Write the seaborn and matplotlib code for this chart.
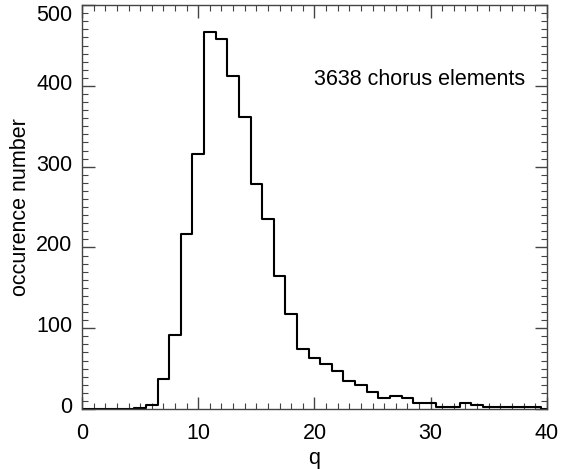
import matplotlib

matplotlib.use("Agg")

import matplotlib.pyplot as plt
import matplotlib.transforms as mtransforms
import pandas as pd
import seaborn as sns
from matplotlib.ticker import MultipleLocator

# q value (bin centre) and number of chorus elements in each bin
q_values = list(range(0, 41))
counts = [0, 0, 0, 0, 0, 1, 5, 37, 92, 217,
          316, 467, 458, 412, 362, 278, 235, 165, 118, 74,
          63, 56, 47, 35, 30, 21, 13, 16, 13, 7,
          7, 3, 3, 7, 5, 2, 2, 2, 3, 3,
          0]
annotation = "3638 chorus elements"

df = pd.DataFrame({"q": q_values, "n": counts})

sns.set_theme(style="ticks")
plt.rcParams["font.family"] = ["Liberation Sans", "DejaVu Sans"]
plt.rcParams["text.color"] = "black"
plt.rcParams["axes.labelcolor"] = "black"

fig = plt.figure(figsize=(5.62, 4.69), dpi=100)
ax = fig.add_axes([0.146, 0.128, 0.827, 0.861])

sns.histplot(
    data=df,
    x="q",
    weights="n",
    discrete=True,
    element="step",
    fill=False,
    color="black",
    linewidth=1.5,
    ax=ax,
)

ax.set_xlim(0, 40)
ax.set_ylim(0, 500)
ax.xaxis.set_major_locator(MultipleLocator(10))
ax.xaxis.set_minor_locator(MultipleLocator(1))
ax.yaxis.set_major_locator(MultipleLocator(100))
ax.yaxis.set_minor_locator(MultipleLocator(10))
ax.tick_params(which="both", direction="in", top=True, right=True,
               color="#444444", labelcolor="black", labelsize=15.5)
ax.tick_params(axis="x", pad=10)
ax.tick_params(axis="y", pad=7)
ax.tick_params(which="major", length=9, width=1.0)
ax.tick_params(which="minor", length=4.5, width=0.8)
for side in ax.spines.values():
    side.set_color("#444444")
    side.set_linewidth(1.0)

# IDL-like label placement: y labels sit a little above their ticks,
# the top one is pushed down so it stays inside the figure
fig.canvas.draw()
ylabels = ax.get_yticklabels()
for lab in ylabels:
    shift = -8 if lab.get_text() == "500" else 4
    lab.set_transform(lab.get_transform() + mtransforms.ScaledTranslation(0, shift / 100, fig.dpi_scale_trans))

ax.set_xlabel("q", fontsize=15.5, labelpad=3)
ax.set_ylabel("occurence number", fontsize=15.5, labelpad=4)
ax.text(20.0, 408, annotation, fontsize=15.5, ha="left", va="center")

fig.savefig("out.png", dpi=100)
